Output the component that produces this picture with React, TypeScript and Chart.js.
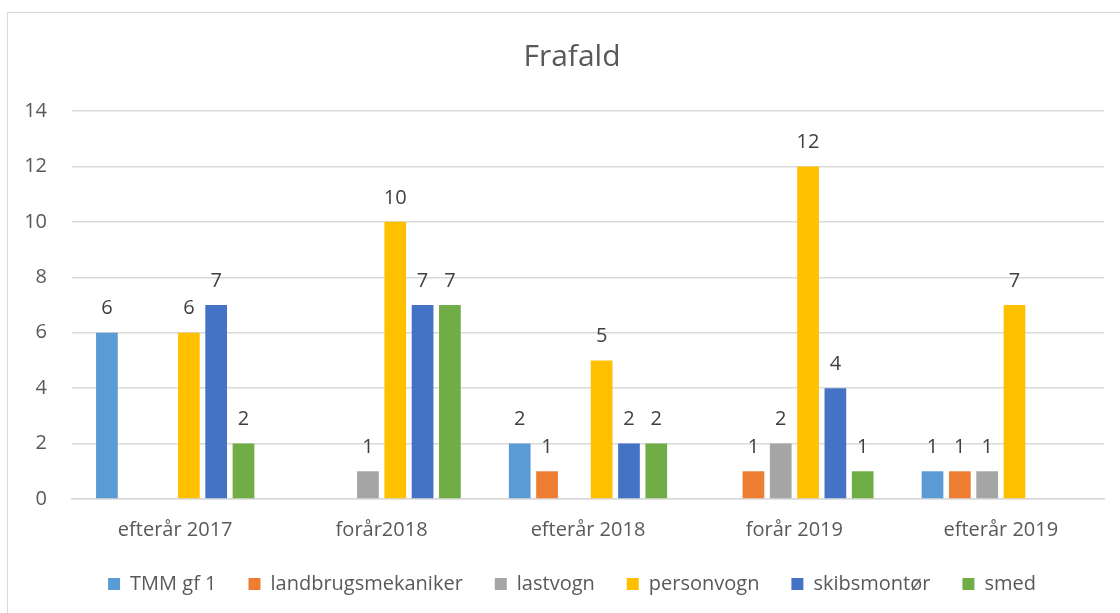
import React, { useEffect, useRef } from "react";
import { Chart, registerables } from "chart.js";

Chart.register(...registerables);

const categories = ["efterår 2017", "forår2018", "efterår 2018", "forår 2019", "efterår 2019"];
const seriesNames = ["TMM gf 1", "landbrugsmekaniker", "lastvogn", "personvogn", "skibsmontør", "smed"];
const tmm = [6, null, 2, null, 1];
const landbrug = [null, null, 1, 1, 1];
const lastvogn = [null, 1, null, 2, 1];
const personvogn = [6, 10, 5, 12, 7];
const skibsmontor = [7, 7, 2, 4, null];
const smed = [2, 7, 2, 1, null];
const seriesColors = ["#5B9BD5", "#ED7D31", "#A5A5A5", "#FFC000", "#4472C4", "#70AD47"];
const yTicks = [0, 2, 4, 6, 8, 10, 12, 14];

const FONT = "'Open Sans', 'DejaVu Sans', sans-serif";

const dataLabelPlugin = {
  id: "dataLabels",
  afterDatasetsDraw(chart: any) {
    const ctx = chart.ctx;
    ctx.save();
    ctx.font = `20px ${FONT}`;
    ctx.fillStyle = "#404040";
    ctx.textAlign = "center";
    ctx.textBaseline = "middle";
    chart.data.datasets.forEach((ds: any, i: number) => {
      const meta = chart.getDatasetMeta(i);
      meta.data.forEach((el: any, j: number) => {
        const v = ds.data[j];
        if (v === null || v === undefined) return;
        ctx.fillText(String(v), el.x, el.y - 24);
      });
    });
    ctx.restore();
  },
};

export default function App() {
  const ref = useRef<HTMLCanvasElement | null>(null);

  useEffect(() => {
    if (!ref.current) return;
    const values = [tmm, landbrug, lastvogn, personvogn, skibsmontor, smed];
    const chart = new Chart(ref.current, {
      type: "bar",
      data: {
        labels: categories,
        datasets: seriesNames.map((name, i) => ({
          label: name,
          data: values[i],
          backgroundColor: seriesColors[i],
          borderWidth: 0,
          categoryPercentage: 0.794,
          barPercentage: 0.795,
          yAxisID: "y",
        })),
      },
      options: {
        animation: false,
        responsive: false,
        maintainAspectRatio: false,
        layout: { padding: { left: 0, right: 0, top: 0, bottom: 9 } },
        plugins: {
          title: {
            display: true,
            text: "Frafald",
            color: "#595959",
            font: { family: FONT, size: 30, weight: "normal", lineHeight: 1.2 },
            padding: { top: 26, bottom: 36 },
          },
          legend: {
            display: true,
            position: "bottom",
            labels: {
              color: "#595959",
              font: { family: FONT, size: 20 },
              boxWidth: 12,
              boxHeight: 12,
              padding: 32,
            },
          },
          tooltip: { enabled: false },
        },
        scales: {
          x: {
            grid: { display: false },
            border: { display: true, color: "#d9d9d9", width: 1.5 },
            ticks: {
              color: "#595959",
              font: { family: FONT, size: 20 },
              padding: 11,
              maxRotation: 0,
            },
            afterFit: (s: any) => {
              s.height = 43;
            },
          },
          y: {
            min: 0,
            max: 14,
            position: "left",
            afterBuildTicks: (s: any) => {
              s.ticks = yTicks.map((v) => ({ value: v }));
            },
            grid: { color: "#d9d9d9", lineWidth: 1.5, drawTicks: false },
            border: { display: false },
            ticks: {
              color: "#595959",
              font: { family: FONT, size: 20 },
              padding: 25,
            },
            afterFit: (s: any) => {
              s.width = 64;
            },
          },
          yRight: {
            position: "right",
            display: true,
            min: 0,
            max: 14,
            grid: { display: false, drawTicks: false },
            border: { display: false },
            ticks: { display: false },
            afterFit: (s: any) => {
              s.width = 32;
            },
          },
        },
      },
      plugins: [dataLabelPlugin],
    } as any);
    return () => chart.destroy();
  }, []);

  return (
    <div
      style={{
        position: "fixed",
        left: 7,
        top: 12,
        width: 1200,
        height: 700,
        border: "1px solid #d9d9d9",
        background: "#ffffff",
      }}
    >
      <canvas ref={ref} width={1128} height={600} style={{ display: "block", width: 1128, height: 600 }} />
    </div>
  );
}
